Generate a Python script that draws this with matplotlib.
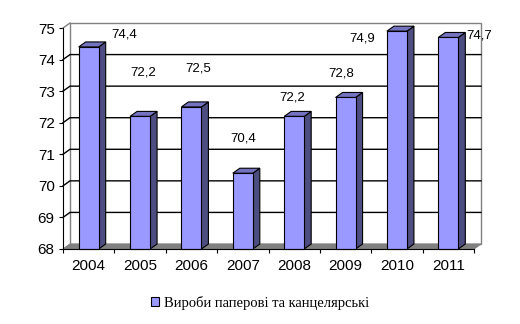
import matplotlib.pyplot as plt
from matplotlib.patches import Polygon, Patch

years = ['2004', '2005', '2006', '2007', '2008', '2009', '2010', '2011']
values = [74.4, 72.2, 72.5, 70.4, 72.2, 72.8, 74.9, 74.7]
series_name = 'Вироби паперові та канцелярські'

# where each value label sits relative to its bar top (pixels)
label_shift = [(35, 12), (3, 44), (7, 38), (0, 35), (-2, 19), (-4, 24), (-35, -7), (31, 2)]

ymin, ymax = 68, 75
face = '#9999ff'
side = '#4d4d80'
top = '#7373c0'

fig = plt.figure(figsize=(5.2, 3.24), dpi=100)
W, H = 520, 324
# front plane of the 3d box in pixels
x0, x1, yb, yt = 63, 474, 249, 28
ax = fig.add_axes([x0 / W, 1 - yb / H, (x1 - x0) / W, (yb - yt) / H])
ax.set_xlim(0, len(years))
ax.set_ylim(ymin, ymax)

# depth offset of the box, converted to data units
ddx = 7 / ((x1 - x0) / len(years))
ddy = 5 / ((yb - yt) / (ymax - ymin))
n = len(years)

# back wall, left wall, floor
ax.add_patch(Polygon([(ddx, ymin + ddy), (n + ddx, ymin + ddy), (n + ddx, ymax + ddy), (ddx, ymax + ddy)],
                     closed=True, facecolor='white', edgecolor='#808080', lw=1, clip_on=False, zorder=1))
ax.plot([0, ddx], [ymax, ymax + ddy], color='#808080', lw=1, clip_on=False, zorder=2)
for v in range(ymin + 1, ymax):
    ax.plot([0, ddx, n + ddx], [v, v + ddy, v + ddy], color='black', lw=1, clip_on=False, zorder=2)
ax.add_patch(Polygon([(0, ymin), (n, ymin), (n + ddx, ymin + ddy), (ddx, ymin + ddy)],
                     closed=True, facecolor='#808080', edgecolor='#808080', lw=0.8, clip_on=False, zorder=2))

# bars with side and top faces
hw = 10 / ((x1 - x0) / n)
for i, v in enumerate(values):
    c = i + 0.5
    l, r = c - hw, c + hw
    ax.add_patch(Polygon([(r, ymin), (r + ddx, ymin + ddy), (r + ddx, v + ddy), (r, v)],
                         closed=True, facecolor=side, edgecolor='black', lw=0.8, clip_on=False, zorder=3))
    ax.add_patch(Polygon([(l, v), (r, v), (r + ddx, v + ddy), (l + ddx, v + ddy)],
                         closed=True, facecolor=top, edgecolor='black', lw=0.8, clip_on=False, zorder=3))
    ax.add_patch(Polygon([(l, ymin), (r, ymin), (r, v), (l, v)],
                         closed=True, facecolor=face, edgecolor='black', lw=0.8, clip_on=False, zorder=4))
    sx, sy = label_shift[i]
    ax.annotate(f'{v:.1f}'.replace('.', ','), xy=(c, v), xytext=(sx, sy), textcoords='offset pixels',
                ha='center', va='center', fontsize=9.5, family='Liberation Sans', zorder=5)

for s in ['top', 'right']:
    ax.spines[s].set_visible(False)
ax.spines['left'].set_zorder(6)
ax.spines['bottom'].set_zorder(6)
ax.patch.set_visible(False)

ax.set_yticks(range(ymin, ymax + 1))
ax.set_xticks(range(n + 1))
ax.set_xticks([i + 0.5 for i in range(n)], years, minor=True)
ax.set_xticklabels([])
ax.tick_params(axis='x', which='major', length=3, direction='out')
ax.tick_params(axis='x', which='minor', length=0, pad=7)
ax.tick_params(axis='y', length=3, pad=3)
for t in ax.get_xticklabels(minor=True) + ax.get_yticklabels():
    t.set_family('Liberation Sans')
    t.set_fontsize(11)

fig.legend(handles=[Patch(facecolor=face, edgecolor='black', lw=0.8)], labels=[series_name],
           loc='center', bbox_to_anchor=(260 / W, 1 - 303 / H), frameon=False,
           handlelength=0.6, handleheight=0.6, handletextpad=0.35,
           prop={'family': 'Liberation Serif', 'size': 10.5})

fig.savefig('out.png', dpi=100)
